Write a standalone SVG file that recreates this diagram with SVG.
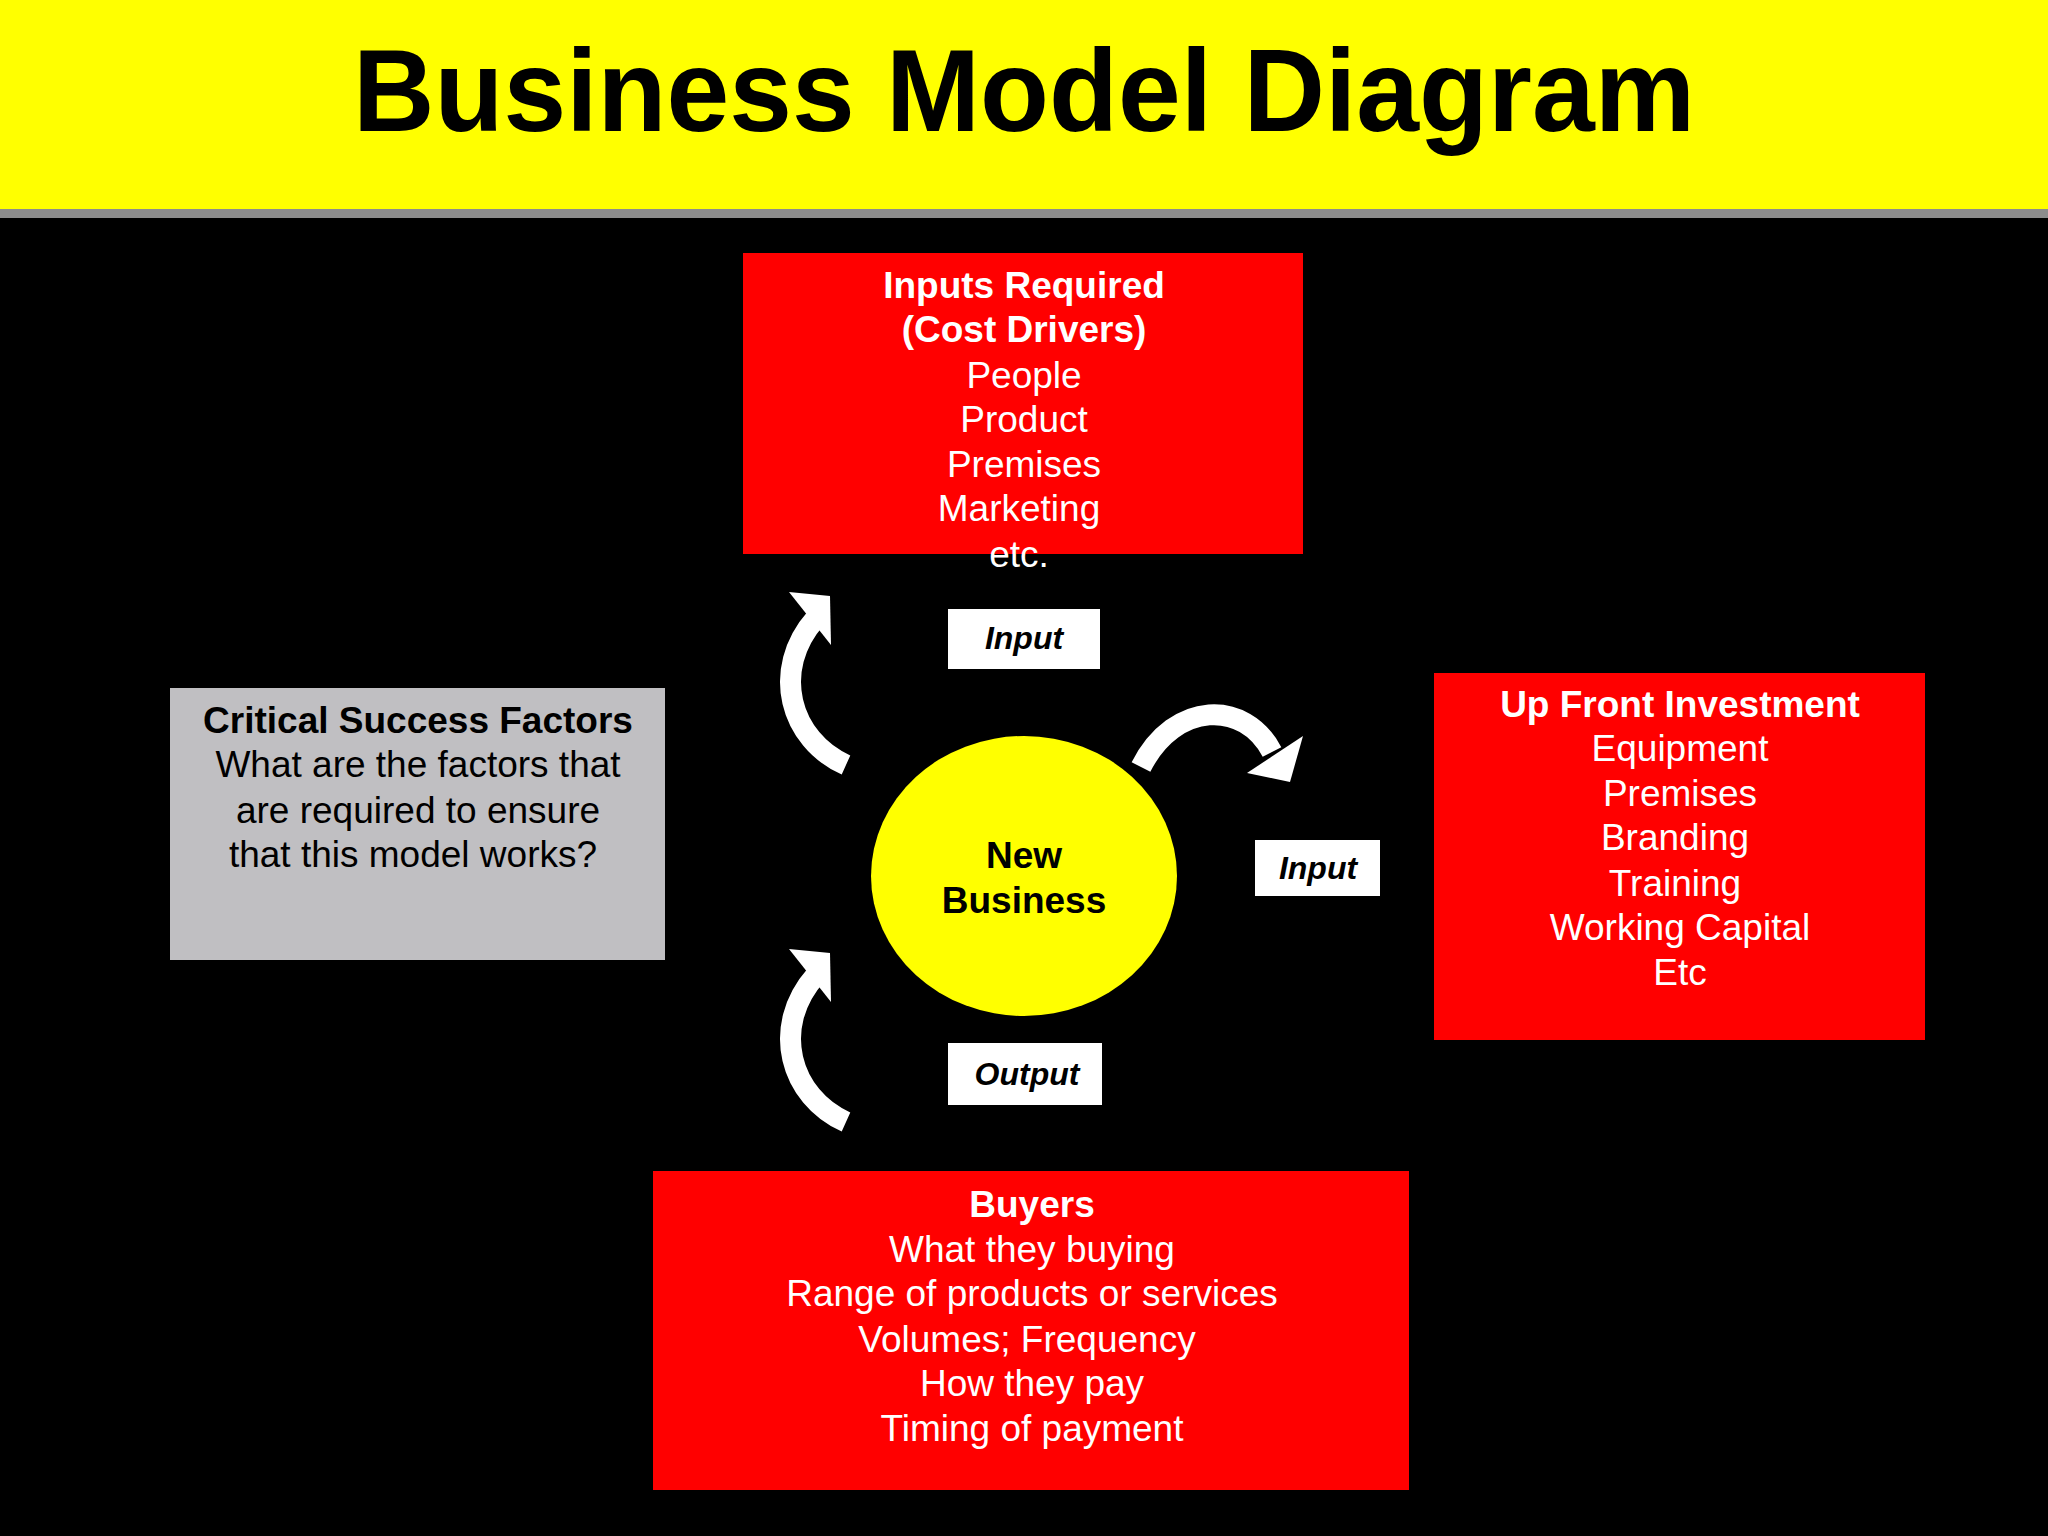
<svg xmlns="http://www.w3.org/2000/svg" width="2048" height="1536" viewBox="0 0 2048 1536">
<style>
text{font-family:"Liberation Sans",Arial,sans-serif;text-anchor:middle}
.w{fill:#fff;font-size:37px}
.b{font-weight:bold}
.k{fill:#000;font-size:37px}
.lab{fill:#000;font-size:32px;font-weight:bold;font-style:italic}
.red{fill:#ff0000}
.arr{fill:none;stroke:#fff;stroke-width:21}
</style>
<rect width="2048" height="1536" fill="#000"/>
<rect width="2048" height="209" fill="#ffff00"/>
<rect y="209" width="2048" height="9" fill="#8c8c8c"/>
<text x="1024" y="131" font-size="116" font-weight="bold" textLength="1342" lengthAdjust="spacingAndGlyphs">Business Model Diagram</text>
<g id="connectors">
<path class="arr" d="M846 765 C790 740 770 670 816 618"/>
<polygon fill="#fff" points="789,592 830,596 831,645"/>
<path class="arr" d="M846 1122 C790 1097 770 1027 816 975"/>
<polygon fill="#fff" points="789,949 830,953 831,1002"/>
<path class="arr" d="M1141 767 C1175 700 1245 700 1272 752"/>
<polygon fill="#fff" points="1290,782 1303,736 1247,773"/>
</g>
<g id="inputs">
<rect class="red" x="743" y="253" width="560" height="301"/>
<text class="w b" x="1024" y="298">Inputs Required</text>
<text class="w b" x="1024" y="342">(Cost Drivers)</text>
<text class="w" x="1024" y="388">People</text>
<text class="w" x="1024" y="432">Product</text>
<text class="w" x="1024" y="477">Premises</text>
<text class="w" x="1019" y="521">Marketing</text>
<text class="w" x="1019" y="567">etc.</text>
</g>
<g id="label-input1">
<rect x="948" y="609" width="152" height="60" fill="#fff"/>
<text class="lab" x="1024" y="649">Input</text>
</g>
<g id="csf">
<rect x="170" y="688" width="495" height="272" fill="#c0bfc2"/>
<text class="k b" x="418" y="733">Critical Success Factors</text>
<text class="k" x="418" y="777">What are the factors that</text>
<text class="k" x="418" y="823">are required to ensure</text>
<text class="k" x="413" y="867">that this model works?</text>
</g>
<g id="newbusiness">
<ellipse cx="1024" cy="876" rx="153" ry="140" fill="#ffff00"/>
<text class="k b" x="1024" y="868">New</text>
<text class="k b" x="1024" y="913">Business</text>
</g>
<g id="upfront">
<rect class="red" x="1434" y="673" width="491" height="367"/>
<text class="w b" x="1680" y="717">Up Front Investment</text>
<text class="w" x="1680" y="761">Equipment</text>
<text class="w" x="1680" y="806">Premises</text>
<text class="w" x="1675" y="850">Branding</text>
<text class="w" x="1675" y="896">Training</text>
<text class="w" x="1680" y="940">Working Capital</text>
<text class="w" x="1680" y="985">Etc</text>
</g>
<g id="label-input2">
<rect x="1255" y="840" width="125" height="56" fill="#fff"/>
<text class="lab" x="1318" y="879">Input</text>
</g>
<g id="label-output">
<rect x="948" y="1043" width="154" height="62" fill="#fff"/>
<text class="lab" x="1027" y="1085">Output</text>
</g>
<g id="buyers">
<rect class="red" x="653" y="1171" width="756" height="319"/>
<text class="w b" x="1032" y="1217">Buyers</text>
<text class="w" x="1032" y="1262">What they buying</text>
<text class="w" x="1032" y="1306">Range of products or services</text>
<text class="w" x="1027" y="1352">Volumes; Frequency</text>
<text class="w" x="1032" y="1396">How they pay</text>
<text class="w" x="1032" y="1441">Timing of payment</text>
</g>
</svg>
